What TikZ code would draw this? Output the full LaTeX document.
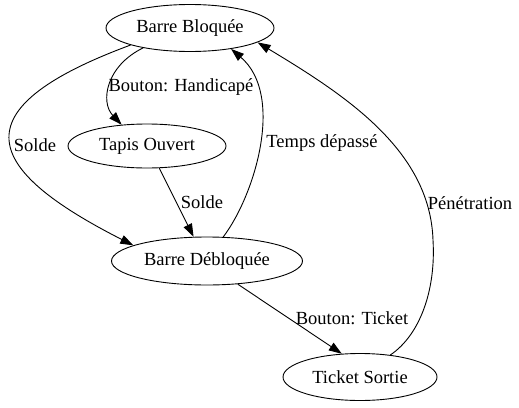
\documentclass[tikz,border=0pt]{standalone}
\usepackage{fontspec}
\setmainfont{Liberation Serif}
\usetikzlibrary{positioning,shapes.geometric,arrows.meta}

\begin{document}
\begin{tikzpicture}[
  x=1pt, y=-1pt,
  statenode/.style={ellipse, draw=black, line width=0.9pt, inner sep=0pt, minimum height=47pt},
  edgelabel/.style={inner sep=0pt, font=\fontsize{18.5}{22}\selectfont},
  trans/.style={line width=0.9pt, -{Triangle[length=13pt,width=9pt]}}
]
\useasboundingbox (0,0) rectangle (519,407);
\tikzset{every node/.append style={font=\fontsize{18.5}{22}\selectfont}}

%Nodes
\node[statenode, minimum width=168pt] (bloquee) at (190,28) {Barre Bloquée};
\node[statenode, minimum width=158pt, minimum height=44pt] (tapis) at (147,146) {Tapis Ouvert};
\node[statenode, minimum width=191pt, minimum height=48pt] (debloquee) at (207,261) {Barre Débloquée};
\node[statenode, minimum width=154pt] (ticket) at (360,377) {Ticket Sortie};

%Labels
\node[edgelabel] (lhandi) at (181,87) {Bouton: Handicapé};
\node[edgelabel] (lsolde1) at (35,145) {Solde};
\node[edgelabel] (lsolde2) at (202,202) {Solde};
\node[edgelabel] (ltemps) at (322,143) {Temps dépassé};
\node[edgelabel] (lbticket) at (352,318) {Bouton: Ticket};
\node[edgelabel] (lpene) at (470,203) {Pénétration};

%Arrows
\draw[trans] (bloquee.203) .. controls (106,66) and (100,102) .. (tapis.140);
\draw[trans] (bloquee.196) .. controls (-45,110) and (-15,170) .. (debloquee.168);
\draw[trans] (tapis.299) -- (debloquee.119);
\draw[trans] (debloquee.56) .. controls (255,195) and (285,95) .. (bloquee.333);
\draw[trans] (debloquee.323) -- (ticket.128);
\draw[trans] (ticket.36) .. controls (420,335) and (436,290) .. (433,240)
  .. controls (430,150) and (345,95) .. (bloquee.348);
\end{tikzpicture}
\end{document}
